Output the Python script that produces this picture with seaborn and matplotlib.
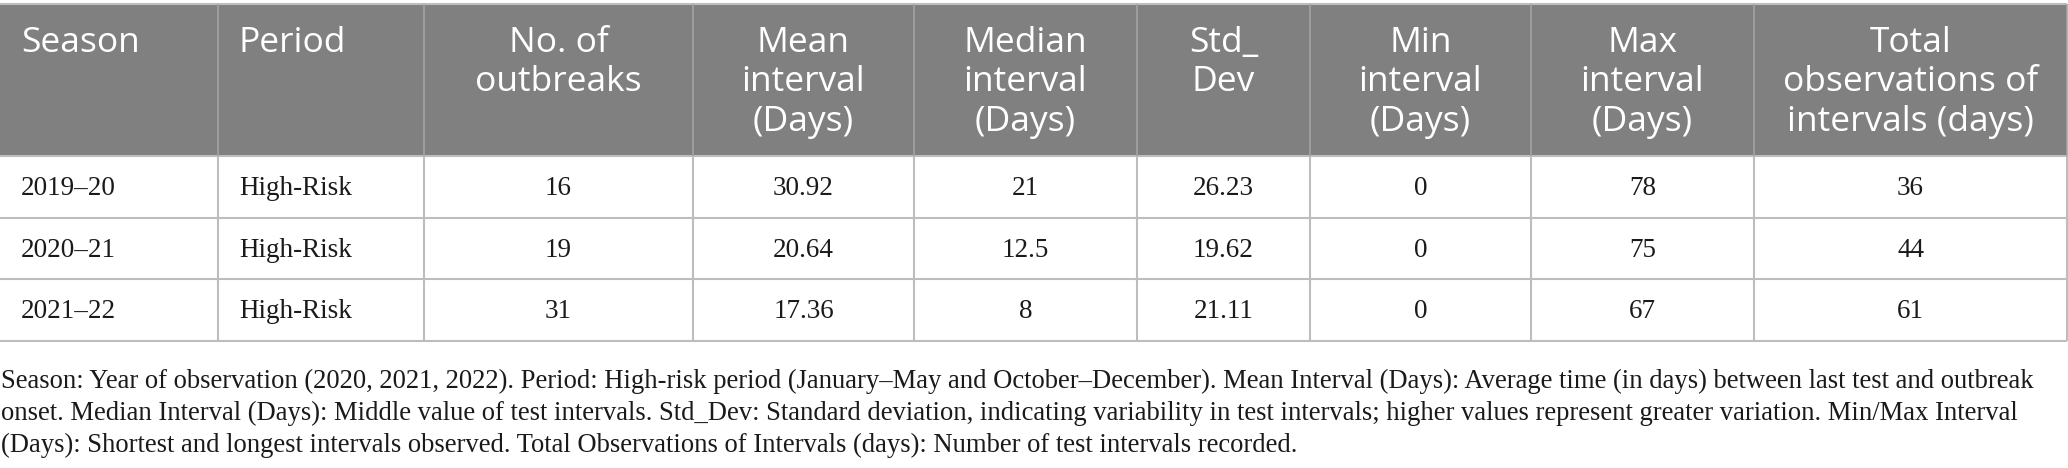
import matplotlib
matplotlib.use("Agg")
import matplotlib.pyplot as plt
import seaborn as sns

# ---- data ----
headers = ["Season", "Period", "No. of\noutbreaks", "Mean\ninterval\n(Days)",
           "Median\ninterval\n(Days)", "Std_\nDev", "Min\ninterval\n(Days)",
           "Max\ninterval\n(Days)", "Total\nobservations of\nintervals (days)"]
seasons = ["2019\u201320", "2020\u201321", "2021\u201322"]
periods = ["High-Risk", "High-Risk", "High-Risk"]
n_outbreaks = ["16", "19", "31"]
mean_interval = ["30.92", "20.64", "17.36"]
median_interval = ["21", "12.5", "8"]
std_dev = ["26.23", "19.62", "21.11"]
min_interval = ["0", "0", "0"]
max_interval = ["78", "75", "67"]
total_obs = ["36", "44", "61"]
footnote_lines = [
    "Season: Year of observation (2020, 2021, 2022). Period: High-risk period (January\u2013May and October\u2013December). Mean Interval (Days): Average time (in days) between last test and outbreak",
    "onset. Median Interval (Days): Middle value of test intervals. Std_Dev: Standard deviation, indicating variability in test intervals; higher values represent greater variation. Min/Max Interval",
    "(Days): Shortest and longest intervals observed. Total Observations of Intervals (days): Number of test intervals recorded.",
]

columns = [seasons, periods, n_outbreaks, mean_interval, median_interval,
           std_dev, min_interval, max_interval, total_obs]

# ---- layout (pixels) ----
W, H = 2068, 468
col_edges = [0, 218, 424, 693, 914, 1137, 1310, 1531, 1754, 2067]
table_top = 4
header_bottom = 156
row_h = 61.5
pad = 21

sns.set_theme(style="white")
plt.rcParams["font.family"] = ["DejaVu Sans"]

fig = plt.figure(figsize=(W / 100, H / 100), dpi=100)
ax = fig.add_axes([0, 0, 1, 1])
ax.set_xlim(0, W)
ax.set_ylim(H, 0)
ax.axis("off")

header_bg = "#808080"
line_col = "#bdbdbd"

# header background
ax.fill_between([col_edges[0], col_edges[-1]], table_top, header_bottom,
                color=header_bg, lw=0, zorder=1)

n_rows = len(seasons)
table_bottom = header_bottom + n_rows * row_h

# horizontal lines
ax.hlines([table_top], col_edges[0], col_edges[-1], color=line_col, lw=1.5, zorder=3)
for i in range(n_rows + 1):
    ax.hlines(header_bottom + i * row_h, col_edges[0], col_edges[-1],
              color=line_col, lw=1.5, zorder=3)
# vertical lines
for x in col_edges[1:]:
    ax.vlines(x, table_top, header_bottom, color="#a3a3a3", lw=1.2, zorder=3)
    ax.vlines(x, header_bottom, table_bottom, color=line_col, lw=1.5, zorder=3)

# header text
for j, h in enumerate(headers):
    left, right = col_edges[j], col_edges[j + 1]
    if j < 2:
        x, ha = left + pad, "left"
    else:
        x, ha = (left + right) / 2, "center"
    ax.text(x, 26, h, ha=ha, va="top", color="white",
            fontsize=25.5, family="Open Sans", linespacing=1.21,
            multialignment="center" if j >= 2 else "left", zorder=4)

# body text
for j, col in enumerate(columns):
    left, right = col_edges[j], col_edges[j + 1]
    for i, val in enumerate(col):
        y = header_bottom + (i + 0.5) * row_h + 2
        if j < 2:
            x, ha = left + pad, "left"
        else:
            x, ha = (left + right) / 2, "center"
        ax.text(x, y, val, ha=ha, va="center", color="#1a1a1a",
                fontsize=19.5, family="Liberation Serif", zorder=4)

# footnote
for k, line in enumerate(footnote_lines):
    ax.text(1, 388 + k * 32, line, ha="left", va="baseline", color="#1a1a1a",
            fontsize=19.2, family="Liberation Serif")

fig.savefig("out.png", dpi=100)
